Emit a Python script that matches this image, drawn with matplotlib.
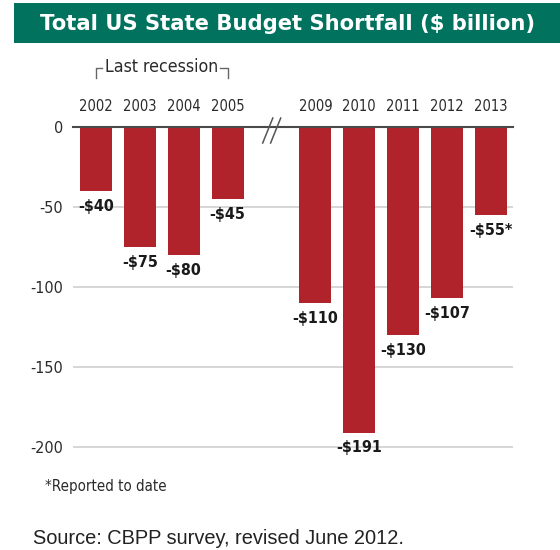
import matplotlib
matplotlib.use("Agg")
import matplotlib.pyplot as plt
from matplotlib import font_manager
from matplotlib.patches import Rectangle

# Budget shortfall by fiscal year ($ billion)
years_recession = ["2002", "2003", "2004", "2005"]
values_recession = [-40, -75, -80, -45]
years_recent = ["2009", "2010", "2011", "2012", "2013"]
values_recent = [-110, -191, -130, -107, -55]
value_labels_recession = ["-$40", "-$75", "-$80", "-$45"]
value_labels_recent = ["-$110", "-$191", "-$130", "-$107", "-$55*"]
y_ticks = [0, -50, -100, -150, -200]

BAR_RED = "#b0232b"
BANNER = "#00725e"

# condensed face for the chart labels
has_condensed = any(f.name == "DejaVu Sans" and f.stretch == "condensed"
                    for f in font_manager.fontManager.ttflist)
NARROW = dict(family="DejaVu Sans", stretch="condensed" if has_condensed else "normal")

fig = plt.figure(figsize=(5.6, 5.5), dpi=100)
fig.patch.set_facecolor("white")

# title banner
fig.patches.append(Rectangle((14 / 560, 1 - 43 / 550), 1 - 14 / 560, 40 / 550,
                             transform=fig.transFigure, facecolor=BANNER,
                             edgecolor="none", zorder=0))
fig.text(287.5 / 560, 1 - 24 / 550, "Total US State Budget Shortfall ($ billion)",
         color="white", fontsize=15.2, fontweight="bold", family="DejaVu Sans",
         ha="center", va="center")

ax = fig.add_axes([73 / 560, 1 - 471 / 550, 440 / 560, 344 / 550])

# two groups of bars separated by an empty slot for the axis break
x_recession = list(range(len(years_recession)))
x_recent = [len(years_recession) + 1 + i for i in range(len(years_recent))]
xs = x_recession + x_recent
years = years_recession + years_recent
values = values_recession + values_recent
labels = value_labels_recession + value_labels_recent

ax.set_xlim(-0.52, 9.5)
ax.set_ylim(-215, 0)

for y in y_ticks[1:]:
    ax.axhline(y, color="#d6d6d6", lw=1.4, zorder=0)

ax.bar(xs, values, width=0.73, color=BAR_RED, zorder=2)
ax.axhline(0, color="#4a4a4a", lw=1.5, zorder=3, clip_on=False)

for x, v, lab in zip(xs, values, labels):
    ax.annotate(lab, (x, v), xytext=(0, -11), textcoords="offset points",
                ha="center", va="center", fontsize=11.5, fontweight="bold",
                color="#1a1a1a", annotation_clip=False, **NARROW)

for x, yr in zip(xs, years):
    ax.text(x, 12.5, yr, ha="center", va="center", fontsize=10.5,
            color="#2a2a2a", clip_on=False, **NARROW)

# axis-break marks
brk = len(years_recession)
for dx in (-0.2, -0.02):
    ax.plot([brk + dx, brk + dx + 0.23], [-10, 5.6], color="#555555", lw=1.1,
            clip_on=False, zorder=4)

# "Last recession" bracket over the first group
ax.text(1.5, 37.5, "Last recession", ha="center", va="center", fontsize=12.7,
        color="#2a2a2a", clip_on=False, **NARROW)
ax.plot([0, 0, 0.15], [30.5, 36.8, 36.8], color="#666666", lw=1.0, clip_on=False)
ax.plot([2.83, 3.0, 3.0], [36.8, 36.8, 30.5], color="#666666", lw=1.0, clip_on=False)

ax.set_yticks(y_ticks)
ax.set_yticklabels([str(t) for t in y_ticks], fontsize=11.5, color="#2a2a2a",
                   **NARROW)
ax.tick_params(axis="y", length=0, pad=7)
ax.set_xticks([])
for s in ax.spines.values():
    s.set_visible(False)

fig.text(45 / 560, 1 - 487 / 550, "*Reported to date", fontsize=10.8,
         color="#2a2a2a", ha="left", va="center", **NARROW)
fig.text(33 / 560, 1 - 539 / 550, "Source: CBPP survey, revised June 2012.",
         family="Liberation Sans", fontsize=14.4, color="#222222",
         ha="left", va="center")

fig.savefig("out.png", dpi=100)
